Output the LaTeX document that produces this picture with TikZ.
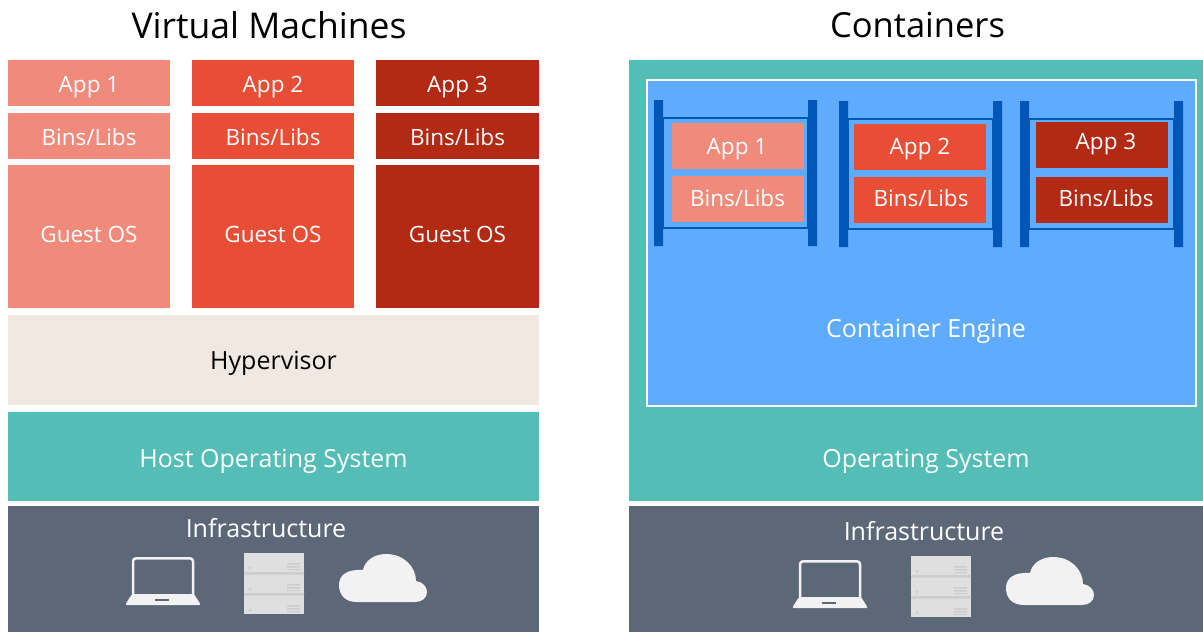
\documentclass[tikz,border=0pt]{standalone}
\usepackage{fontspec}
\setmainfont{Open Sans}
\usetikzlibrary{positioning}
\definecolor{salmon}{HTML}{F08B7C}
\definecolor{redapp}{HTML}{E84E36}
\definecolor{darkapp}{HTML}{B32A14}
\definecolor{beige}{HTML}{F0E8E1}
\definecolor{teal}{HTML}{53BDB6}
\definecolor{slate}{HTML}{5C6778}
\definecolor{engine}{HTML}{5EABFF}
\definecolor{rackblue}{HTML}{0057B8}
\definecolor{icon}{HTML}{F2F2F2}
\definecolor{servbox}{HTML}{DFDFDF}
\definecolor{servline}{HTML}{CDCDCD}
\tikzset{
  small/.style={font=\fontsize{22.5}{26}\selectfont},
  large/.style={font=\fontsize{25}{28}\selectfont},
  slab/.style 2 args={minimum width=#1pt,minimum height=#2pt,inner sep=0pt,text=white,text height=18pt,text depth=0pt},
  head/.style={font=\fontsize{35.5}{38}\selectfont,inner sep=0pt},
  lbl/.style={text=white,inner sep=0pt,text height=18pt,text depth=0pt},
  rack/.pic={
    \fill[rackblue] (0,0) rectangle (9,146) (154,0) rectangle (163,146);
    \draw[rackblue,line width=2.5pt] (9,18) rectangle (154,128);
  },
  infra/.pic={
    % laptop
    \draw[icon,line width=2.5pt,rounded corners=3pt] (8,40) -- (8,1.3) -- (68,1.3) -- (68,40);
    \fill[icon,rounded corners=2pt] (0,48) -- (7,37) -- (69,37) -- (76,48) -- cycle;
    \fill[slate] (30,41.5) rectangle (44,44);
    % server
    \fill[servbox] (119,-4) rectangle (179,57);
    \fill[servline] (119,15) rectangle (179,17.5) (119,36) rectangle (179,38.5);
    \foreach \s in {0,21,42} {
      \fill[servline] (125,\s+11) circle (1.5);
      \fill[servline] (162,\s+6) rectangle (175,\s+7.5) (162,\s+9) rectangle (175,\s+10.5) (162,\s+12) rectangle (175,\s+13);
    }
    % cloud
    \fill[icon] (232,45) .. controls (220,45) and (214,38) .. (214,28)
      .. controls (214,18) and (222,12) .. (238,13)
      .. controls (240,3) and (250,-3) .. (261,-3)
      .. controls (279,-3) and (291,10) .. (291,24)
      .. controls (298,25) and (302,30) .. (302,35)
      .. controls (302,41) and (297,45) .. (290,45) -- cycle;
  }
}
\begin{document}
\begin{tikzpicture}[x=1pt,y=-1pt]
  \useasboundingbox (0,0) rectangle (1203,632);
  \node[head] (vmtitle) at (269,25) {Virtual Machines};
  \node[head,font=\fontsize{34.5}{38}\selectfont] (cttitle) at (917.5,25) {Containers};

  \node[slab={162}{46},small,fill=salmon] (app1) at (89,83) {App 1};
  \node[slab={162}{46},small,fill=salmon] (bins1) at (89,136) {Bins/Libs};
  \node[slab={162}{143},small,fill=salmon,text height=12pt] (os1) at (89,236.5) {Guest OS};
  \node[slab={162}{46},small,fill=redapp] (app2) at (273,83) {App 2};
  \node[slab={162}{46},small,fill=redapp] (bins2) at (273,136) {Bins/Libs};
  \node[slab={162}{143},small,fill=redapp,text height=12pt] (os2) at (273,236.5) {Guest OS};
  \node[slab={163}{46},small,fill=darkapp] (app3) at (457.5,83) {App 3};
  \node[slab={163}{46},small,fill=darkapp] (bins3) at (457.5,136) {Bins/Libs};
  \node[slab={163}{143},small,fill=darkapp,text height=12pt] (os3) at (457.5,236.5) {Guest OS};
  \node[slab={531}{90},large,fill=beige,text=black] (hyper) at (273.5,360) {Hypervisor};
  \node[slab={531}{89},large,fill=teal,text height=21pt] (host) at (273.5,456.5) {Host Operating System};
  \node[slab={531}{126},fill=slate] (infraL) at (273.5,569) {};
  \node[lbl,large] (infraLtxt) at (266,528.5) {Infrastructure};

  \node[slab={574}{441},fill=teal] (ctos) at (916,280.5) {};
  \node[lbl,large] (ctostxt) at (926,458) {Operating System};
  \node[slab={549}{326},fill=engine,draw=white,line width=2pt] (eng) at (921,242.5) {};
  \node[lbl,large] (engtxt) at (926,328) {Container Engine};
  \node[slab={574}{126},fill=slate] (infraR) at (916,569) {};
  \node[lbl,large] (infraRtxt) at (924,531.5) {Infrastructure};

  \pic at (654,100) {rack};
  \pic at (839,101) {rack};
  \pic at (1020,101) {rack};

  \node[slab={132}{46},fill=salmon] (capp1) at (737.5,146) {};
  \node[lbl,small] (capp1txt) at (737,145.3) {App 1};
  \node[slab={132}{46},fill=salmon] (cbins1) at (737.5,198.7) {};
  \node[lbl,small] (cbins1txt) at (737.5,197.5) {Bins/Libs};
  \node[slab={132}{46},fill=redapp] (capp2) at (920,147) {};
  \node[lbl,small] (capp2txt) at (920,145.3) {App 2};
  \node[slab={132}{46},fill=redapp] (cbins2) at (920,200) {};
  \node[lbl,small] (cbins2txt) at (921,197.5) {Bins/Libs};
  \node[slab={132}{46},fill=darkapp] (capp3) at (1101.5,145) {};
  \node[lbl,small] (capp3txt) at (1106,140.3) {App 3};
  \node[slab={132}{46},fill=darkapp] (cbins3) at (1101.5,200) {};
  \node[lbl,small] (cbins3txt) at (1106,197) {Bins/Libs};

  \pic at (125,557) {infra};
  \pic at (792,560) {infra};
\end{tikzpicture}
\end{document}
